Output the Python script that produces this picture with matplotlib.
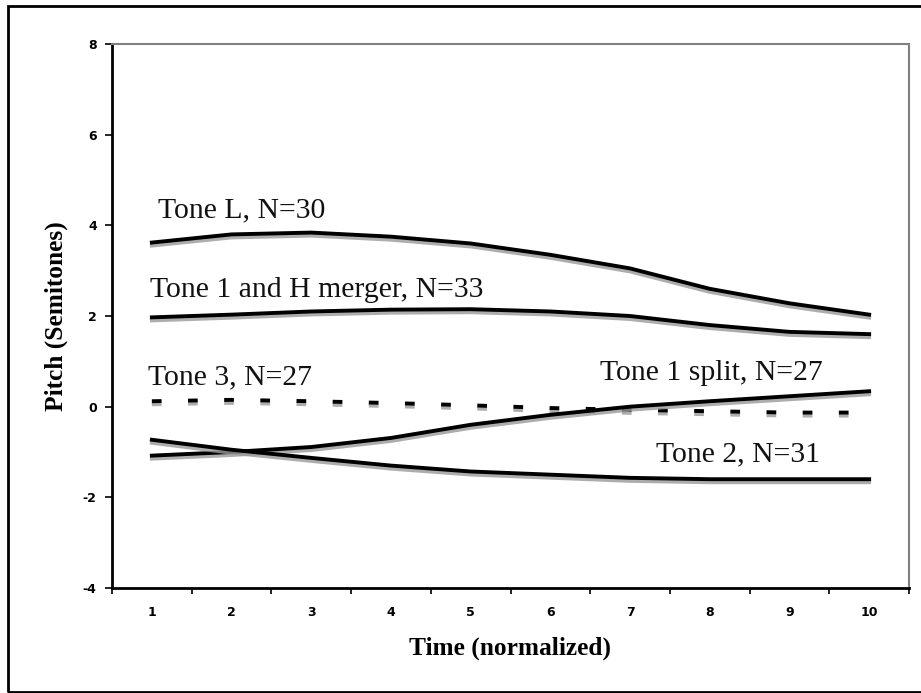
import matplotlib
matplotlib.use("Agg")
import matplotlib.pyplot as plt
import matplotlib.patheffects as pe
from matplotlib.patches import Rectangle

time_points = [1, 2, 3, 4, 5, 6, 7, 8, 9, 10]
tone_L = [3.62, 3.80, 3.84, 3.75, 3.60, 3.35, 3.05, 2.60, 2.28, 2.03]
tone_1H = [1.97, 2.03, 2.10, 2.14, 2.15, 2.10, 2.00, 1.80, 1.65, 1.60]
tone_3 = [0.12, 0.15, 0.12, 0.08, 0.03, -0.03, -0.07, -0.10, -0.13, -0.13]
tone_1_split = [-1.08, -1.00, -0.89, -0.69, -0.40, -0.18, 0.00, 0.12, 0.23, 0.34]
tone_2 = [-0.73, -0.95, -1.13, -1.30, -1.43, -1.50, -1.57, -1.60, -1.60, -1.60]

labels = ["Tone L, N=30", "Tone 1 and H merger, N=33", "Tone 3, N=27",
          "Tone 1 split, N=27", "Tone 2, N=31"]
y_ticks = [-4, -2, 0, 2, 4, 6, 8]

serif = ["Liberation Serif", "DejaVu Serif"]

fig = plt.figure(figsize=(9.21, 6.93), dpi=100)
fig.patches.append(Rectangle((8/921, 1-692/693), 1.2, (692-6)/693,
                             transform=fig.transFigure, fill=False,
                             edgecolor="black", linewidth=2))
ax = fig.add_axes([112/921, 1-588/693, (909-112)/921, (588-44)/693])

shadow = [pe.SimpleLineShadow(offset=(0, -2.2), shadow_color="#999999", alpha=0.8),
          pe.Normal()]
lw = 2.8
ax.plot(time_points, tone_L, color="black", lw=lw, path_effects=shadow)
ax.plot(time_points, tone_1H, color="black", lw=lw, path_effects=shadow)
ax.plot(time_points, tone_3, color="black", lw=lw, ls=(0, (2.5, 6.8)), path_effects=shadow)
ax.plot(time_points, tone_1_split, color="black", lw=lw, path_effects=shadow)
ax.plot(time_points, tone_2, color="black", lw=lw, path_effects=shadow)

ax.set_xlim(0.5, 10.5)
ax.set_ylim(-4, 8)
ax.set_yticks(y_ticks)
ax.set_yticklabels([str(v) for v in y_ticks])
ax.set_xticks(time_points)
ax.set_xticklabels([str(v) for v in time_points])
ax.set_xticks([i + 0.5 for i in range(0, 11)], minor=True)
ax.tick_params(axis="x", which="major", length=0, pad=13, labelsize=9)
ax.tick_params(axis="x", which="minor", length=4, width=1.2, direction="out")
ax.tick_params(axis="y", length=5, width=1.2, direction="out", labelsize=9, pad=6)
for lab in ax.get_xticklabels() + ax.get_yticklabels():
    lab.set_fontweight("bold")

for s in ["left", "bottom"]:
    ax.spines[s].set_color("black")
    ax.spines[s].set_linewidth(2)
for s in ["top", "right"]:
    ax.spines[s].set_color("#808080")
    ax.spines[s].set_linewidth(1.5)

tfont = dict(family=serif, fontsize=21.4, va="baseline", ha="left", color="#111111")
ax.text(1.08, 4.17, labels[0], **tfont)
ax.text(0.98, 2.43, labels[1], **tfont)
ax.text(0.95, 0.49, labels[2], **tfont)
ax.text(6.62, 0.58, labels[3], **tfont)
ax.text(7.33, -1.21, labels[4], **tfont)

fig.text(510/921, 1-648/693, "Time (normalized)", family=serif, fontsize=18.3,
         fontweight="bold", ha="center", va="center")
fig.text(56/921, 1-316/693, "Pitch (Semitones)", family=serif, fontsize=18.3,
         fontweight="bold", ha="center", va="center", rotation=90)

fig.savefig("out.png", dpi=100)
